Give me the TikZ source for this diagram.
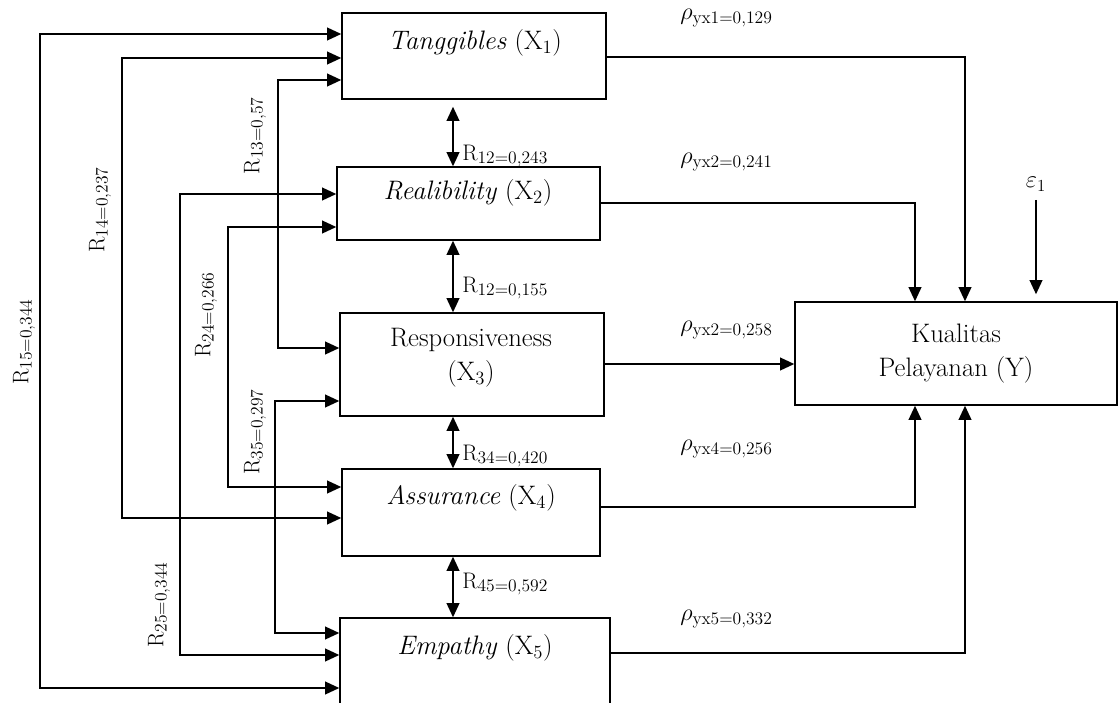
\documentclass[tikz,border=0pt]{standalone}
\usepackage{tikz}
\usetikzlibrary{arrows.meta,positioning}
\newcommand{\rcoef}[1]{R{\fontsize{12.5}{12.5}\selectfont\raisebox{-0.45ex}{#1}}}
\newcommand{\pcoef}[1]{{\fontsize{18}{18}\selectfont$\rho$}\raisebox{-0.45ex}{#1}}
\tikzset{
  >={Triangle[length=10pt,width=9pt]},
  box/.style={draw,line width=1pt,inner sep=0pt},
  boxtxt/.style={font=\fontsize{19}{24}\selectfont,align=center,inner sep=0pt},
  rlab/.style={font=\fontsize{16}{16}\selectfont,inner sep=0pt},
  plab/.style={font=\fontsize{12.5}{13}\selectfont,anchor=west,inner sep=0pt},
  link/.style={<->,line width=1.2pt},
  flow/.style={->,line width=1.2pt}
}
\begin{document}
\begin{tikzpicture}[x=0.025cm,y=-0.025cm]
  \useasboundingbox (0,0) rectangle (1118,703);
  \node[box,minimum width=6.6cm,minimum height=2.15cm] (x1) at (474,56) {};
  \node[box,minimum width=6.575cm,minimum height=1.825cm] (x2) at (468.5,203.5) {};
  \node[box,minimum width=6.6cm,minimum height=2.575cm] (x3) at (472,364.5) {};
  \node[box,minimum width=6.45cm,minimum height=2.175cm] (x4) at (471,512.5) {};
  \node[box,minimum width=6.75cm,minimum height=2.3cm] (x5) at (475,664) {};
  \node[box,boxtxt,minimum width=8.05cm,minimum height=2.575cm] (kp) at (956,353.5) {Kualitas\\Pelayanan (Y)};
  \node[boxtxt] (t1) at (475,43) {\textit{Tanggibles} (X\textsubscript{1})};
  \node[boxtxt] (t2) at (468,193) {\textit{Realibility} (X\textsubscript{2})};
  \node[boxtxt] (t3) at (471,358) {Responsiveness\\(X\textsubscript{3})};
  \node[boxtxt] (t4) at (471,498) {\textit{Assurance} (X\textsubscript{4})};
  \node[boxtxt] (t5) at (475,648) {\textit{Empathy} (X\textsubscript{5})};
  \draw[link,shorten <=5pt] (x1.south -| 453,0) -- (x2.north -| 453,0);
  \draw[link] (x2.south -| 453,0) -- (x3.north -| 453,0);
  \draw[link] (x3.south -| 453,0) -- (x4.north -| 453,0);
  \draw[link] (x4.south -| 453,0) -- (x5.north -| 453,0);
  \node[rlab,anchor=west] (r12) at (462,156) {\rcoef{12=0,243}};
  \node[rlab,anchor=west] (r23) at (462,288) {\rcoef{12=0,155}};
  \node[rlab,anchor=west] (r34) at (462,456) {\rcoef{34=0,420}};
  \node[rlab,anchor=west] (r45) at (462,584) {\rcoef{45=0,592}};
  \draw[link] (x1.west |- 0,34) -- (40,34) -- (40,688) -- (x5.west |- 0,688);
  \draw[link] (x1.west |- 0,58) -- (122,58) -- (122,518) -- (x4.west |- 0,518);
  \draw[link] (x1.west |- 0,80) -- (278,80) -- (278,348) -- (x3.west |- 0,348);
  \draw[link] (x2.west |- 0,194) -- (180,194) -- (180,655) -- (x5.west |- 0,655);
  \draw[link] (x2.west |- 0,227) -- (228,227) -- (228,487) -- (x4.west |- 0,487);
  \draw[link] (x3.west |- 0,401) -- (275,401) -- (275,633) -- (x5.west |- 0,633);
  \node[rlab,rotate=90] (r15) at (24,342) {\rcoef{15=0,344}};
  \node[rlab,rotate=90] (r14) at (100,210) {\rcoef{14=0,237}};
  \node[rlab,rotate=90] (r13) at (255,136) {\rcoef{13=0,57}};
  \node[rlab,rotate=90] (r24) at (206,315) {\rcoef{24=0,266}};
  \node[rlab,rotate=90] (r35) at (255,432) {\rcoef{35=0,297}};
  \node[rlab,rotate=90] (r25) at (159,605) {\rcoef{25=0,344}};
  \draw[flow] (x1.east |- 0,57) -| (965,0 |- kp.north);
  \draw[flow] (x2.east |- 0,203) -| (915,0 |- kp.north);
  \draw[flow] (x3.east |- 0,364) -- (kp.west |- 0,364);
  \draw[flow] (x4.east |- 0,507) -| (915,0 |- kp.south);
  \draw[flow] (x5.east |- 0,653) -| (965,0 |- kp.south);
  \node[font=\fontsize{18}{18}\selectfont,inner sep=2pt] (eps) at (1036,184) {$\varepsilon_1$};
  \draw[flow,shorten <=4pt,shorten >=5pt] (eps.south) -- (eps.south |- kp.north);
  \node[plab] (p1) at (680,18) {\pcoef{yx1=0,129}};
  \node[plab] (p2) at (680,162) {\pcoef{yx2=0,241}};
  \node[plab] (p3) at (680,330) {\pcoef{yx2=0,258}};
  \node[plab] (p4) at (680,449) {\pcoef{yx4=0,256}};
  \node[plab] (p5) at (680,619) {\pcoef{yx5=0,332}};
\end{tikzpicture}
\end{document}
